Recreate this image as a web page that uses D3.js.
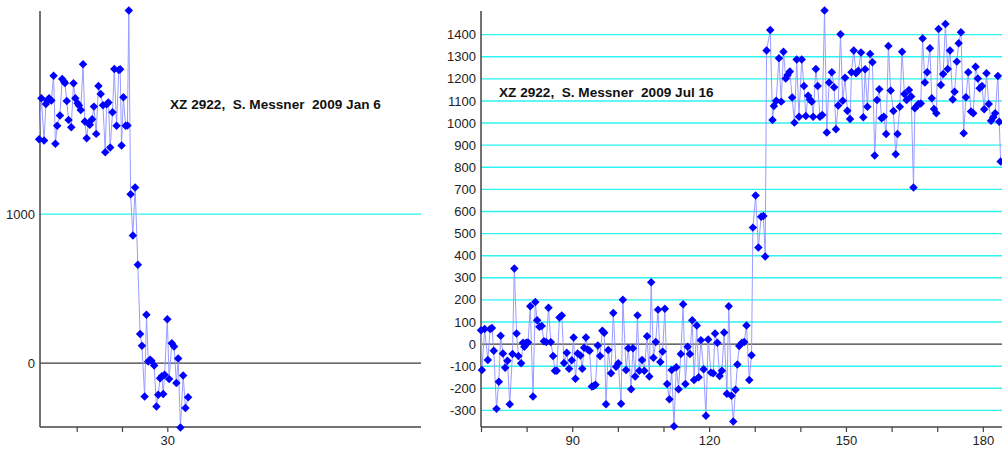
<!DOCTYPE html>
<html>
<head>
<meta charset="utf-8">
<script src="https://cdn.jsdelivr.net/npm/d3@7"></script>
<style>
  body { margin: 0; background: #fff; }
  svg { display: block; font-family: "Liberation Sans", Arial, sans-serif; }
  .title { font-size: 13.6px; font-weight: bold; fill: #111; white-space: pre; }
  .tick-label { font-size: 13px; fill: #222; }
</style>
</head>
<body>
<div id="chart"></div>
<script>
// Left panel: 2009 Jan 6 (time, value)
var leftTimes = [1.7, 2.2, 2.8, 3.2, 3.5, 3.9, 4.4, 4.9, 5.3, 5.7, 6.3, 6.8, 7.2, 7.4, 7.8, 8.2,
    8.8, 9.3, 9.7, 10.2, 10.5, 10.9, 11.4, 11.8, 12.2, 12.6, 12.9, 13.4, 13.8, 14.3, 14.8, 15.3,
    15.8, 16.3, 16.6, 17.0, 17.4, 17.9, 18.3, 18.8, 19.3, 19.6, 19.9, 20.3, 20.8, 21.2, 21.5, 21.9,
    22.4, 22.9, 23.5, 24.0, 24.4, 25.0, 25.4, 25.8, 26.2, 26.5, 27.1, 27.6, 28.0, 28.4, 28.8, 29.1,
    29.4, 30.0, 30.4, 31.0, 31.5, 32.0, 32.4, 32.9, 33.5, 34.0, 34.6];
var leftValues = [1503, 1778, 1494, 1740, 1763, 1778, 1763, 1930, 1472, 1593, 1662, 1908, 1890, 1880, 1760, 1633,
    1584, 1879, 1778, 1745, 1729, 1700, 2007, 1622, 1510, 1611, 1600, 1637, 1722, 1539, 1861, 1807,
    1731, 1416, 1738, 1749, 1447, 1684, 1975, 1593, 1968, 1973, 1461, 1785, 1593, 1595, 2367, 1134,
    857, 1179, 660, 195, 116, -224, 324, 11, 22, 15, -16, -291, -213, -101, -89, -208,
    -78, 295, -107, 134, 112, -134, 31, -432, -83, -302, -230];

// Right panel: 2009 Jul 16 (time, value)
var rightTimes = [70.0, 70.2, 70.8, 71.5, 72.0, 72.4, 72.8, 73.4, 73.9, 74.3, 74.8, 75.3, 75.8, 76.3, 76.9, 77.3,
    77.8, 78.2, 78.8, 79.2, 79.5, 79.9, 80.3, 80.8, 81.4, 81.9, 82.3, 82.8, 83.3, 83.8, 84.3, 84.8,
    85.3, 85.8, 86.2, 86.6, 87.2, 87.7, 88.2, 88.8, 89.3, 89.9, 90.3, 90.7, 91.2, 91.8, 92.2, 92.6,
    93.0, 93.4, 93.8, 94.3, 94.7, 95.1, 95.6, 96.1, 96.6, 97.0, 97.4, 97.9, 98.5, 99.0, 99.6, 100.1,
    100.7, 101.1, 101.8, 102.3, 102.9, 103.3, 103.8, 104.3, 104.7, 105.3, 105.8, 106.4, 106.9, 107.3, 107.8, 108.3,
    108.8, 109.3, 109.8, 110.3, 110.8, 111.3, 111.8, 112.3, 112.8, 113.3, 113.8, 114.3, 114.8, 115.3, 115.8, 116.3,
    116.7, 117.3, 117.7, 118.2, 118.8, 119.3, 119.8, 120.4, 120.9, 121.3, 121.8, 122.3, 122.8, 123.3, 123.9, 124.3,
    124.9, 125.3, 125.8, 126.2, 126.6, 127.2, 127.7, 128.2, 128.8, 129.3, 129.6, 130.2, 130.8, 131.4, 131.9, 132.3,
    132.6, 133.4, 133.9, 134.2, 134.7, 135.3, 135.8, 136.3, 136.8, 137.2, 137.7, 138.2, 138.7, 139.2, 139.7, 140.3,
    140.8, 141.2, 141.7, 142.1, 142.5, 142.8, 143.4, 143.8, 144.3, 144.8, 145.3, 145.8, 146.3, 146.9, 147.4, 147.8,
    148.3, 148.8, 149.3, 149.8, 150.3, 150.9, 151.2, 151.7, 152.2, 152.7, 153.3, 153.8, 154.2, 154.7, 155.3, 155.8,
    156.3, 156.8, 157.3, 157.8, 158.3, 158.8, 159.3, 159.8, 160.4, 160.9, 161.3, 161.8, 162.3, 162.8, 163.3, 163.8,
    164.3, 164.8, 165.1, 165.5, 165.9, 166.4, 166.8, 167.3, 167.8, 168.4, 168.8, 169.3, 169.8, 170.3, 170.8, 171.3,
    171.8, 172.3, 172.8, 173.4, 173.8, 174.3, 174.7, 175.2, 175.8, 176.3, 176.8, 177.4, 177.9, 178.4, 178.9, 179.3,
    179.8, 180.3, 180.8, 181.3, 181.8, 182.3, 182.7, 183.3, 183.6, 183.9];
var rightValues = [63, -117, 68, -72, 68, 73, -30, -293, -170, 38, -42, -107, -75, -272, -45, 342,
    48, -54, -87, 6, -12, 6, 7, 171, -237, 190, 108, 78, 82, 13, 9, 165,
    9, -54, -120, -120, 120, 129, -85, -39, -112, -73, 30, -157, -42, -51, -111, -16,
    30, -24, -30, -192, -189, -184, -6, -54, 60, 51, -272, -27, -132, 141, -102, -87,
    -270, 201, -117, -19, -204, -19, -147, 130, -120, -72, -120, 36, -147, 280, -62, 10,
    156, -81, -34, 160, -180, -249, -117, -372, -105, -204, -45, 180, -180, -12, -45, 108,
    -162, 84, -150, 18, -114, -324, 21, -129, -132, 48, 6, -144, -120, 52, -225, 171,
    -234, -350, -207, -92, -9, 6, 10, 84, -162, -50, 527, 672, 437, 576, 580, 396,
    1328, 1421, 1014, 1077, 1101, 1293, 1097, 1323, 1202, 1217, 1233, 1116, 1002, 1288, 1029, 1288,
    1168, 1032, 1124, 1107, 1097, 1029, 1245, 1168, 1029, 1037, 1509, 957, 1183, 1230, 1162, 972,
    1079, 1402, 1101, 1205, 1056, 1018, 1230, 1328, 1225, 1237, 1319, 1026, 1243, 1074, 1313, 1275,
    853, 1104, 1153, 1022, 1029, 951, 1349, 1147, 1055, 859, 951, 1074, 1323, 1132, 1104, 1150,
    1120, 708, 1067, 1077, 1086, 1089, 1383, 1184, 1230, 1338, 1112, 1064, 1044, 1426, 1172, 1222,
    1448, 1245, 1328, 1107, 1142, 1278, 1361, 1411, 954, 1117, 1230, 1052, 1044, 1255, 1202, 1157,
    1168, 1062, 1225, 1086, 1011, 1026, 1044, 1213, 1006, 826];

// Axis ticks and labels
var leftYTicks = [0, 1000];
var leftXTicks = [10, 20, 30];
var leftXLabels = [30];
var rightYTicks = [-300, -200, -100, 0, 100, 200, 300, 400, 500, 600, 700, 800, 900, 1000, 1100, 1200, 1300, 1400];
var rightXTicks = [70, 80, 90, 100, 110, 120, 130, 140, 150, 160, 170, 180];
var rightXLabels = [90, 120, 150, 180];

var leftTitle = 'XZ 2922,  S. Messner  2009 Jan 6';
var rightTitle = 'XZ 2922,  S. Messner  2009 Jul 16';

var width = 1002, height = 450;

var svg = d3.select('#chart')
    .append('svg')
        .attr('width', width)
        .attr('height', height);

// Draw one panel: gridlines, axes, line, diamond markers and title.
function drawPanel(p) {
    var x = d3.scaleLinear().domain(p.xDomain).range([p.left, p.right]);
    var y = d3.scaleLinear().domain(p.yDomain).range([p.bottom, p.top]);

    var g = svg.append('g');

    g.append('defs').append('clipPath')
        .attr('id', p.id + '-clip')
        .append('rect')
            .attr('x', p.left - 6)
            .attr('y', 0)
            .attr('width', p.right - p.left + 6)
            .attr('height', p.bottom + 6);

    // horizontal gridlines
    g.selectAll('.grid')
        .data(p.yTicks)
        .enter().append('line')
            .attr('x1', p.left)
            .attr('x2', p.right)
            .attr('y1', function(d){ return y(d); })
            .attr('y2', function(d){ return y(d); })
            .attr('stroke', function(d){ return d === 0 ? '#3a3a3a' : '#2cf2f2'; })
            .attr('stroke-width', function(d){ return d === 0 ? 1.2 : 1.4; });

    // y tick labels
    g.selectAll('.ylab')
        .data(p.yTicks)
        .enter().append('text')
            .attr('class', 'tick-label')
            .attr('x', p.left - 5)
            .attr('y', function(d){ return y(d); })
            .attr('dy', '0.35em')
            .attr('text-anchor', 'end')
            .text(function(d){ return d; });

    // x axis
    var xAxis = d3.axisBottom(x)
        .tickValues(p.xTicks)
        .tickSize(5)
        .tickFormat(function(d){ return p.xLabels.indexOf(d) >= 0 ? d : ''; });

    var ax = g.append('g')
        .attr('transform', 'translate(0,' + p.bottom + ')')
        .call(xAxis);
    ax.select('.domain')
        .attr('d', 'M' + p.left + ',0H' + p.right)
        .attr('stroke', '#444')
        .attr('stroke-width', 1.5);
    ax.selectAll('.tick line').attr('stroke', '#444').attr('stroke-width', 1.2);
    ax.selectAll('.tick text')
        .attr('class', 'tick-label')
        .attr('y', 9)
        .style('font-family', '"Liberation Sans", Arial, sans-serif')
        .style('font-size', '13px')
        .attr('fill', '#222');

    // y axis line
    g.append('line')
        .attr('x1', p.left).attr('x2', p.left)
        .attr('y1', p.top).attr('y2', p.bottom)
        .attr('stroke', '#444')
        .attr('stroke-width', 1.5);

    var pts = p.times.map(function(t, i){ return [t, p.values[i]]; });

    var plot = g.append('g').attr('clip-path', 'url(#' + p.id + '-clip)');

    plot.append('path')
        .datum(pts)
        .attr('fill', 'none')
        .attr('stroke', '#9a9cff')
        .attr('stroke-width', 1)
        .attr('d', d3.line()
            .x(function(d){ return x(d[0]); })
            .y(function(d){ return y(d[1]); }));

    plot.selectAll('.pt')
        .data(pts)
        .enter().append('path')
            .attr('d', d3.symbol().type(d3.symbolSquare).size(36))
            .attr('transform', function(d){ return 'translate(' + x(d[0]) + ',' + y(d[1]) + ') rotate(45)'; })
            .attr('fill', '#0000ff');

    g.append('text')
        .attr('class', 'title')
        .attr('x', p.titleX)
        .attr('y', p.titleY)
        .text(p.title);
}

drawPanel({
    id: 'left', left: 40, right: 421, top: 11, bottom: 427,
    xDomain: [1.9, 86], yDomain: [-429, 2364],
    xTicks: leftXTicks, xLabels: leftXLabels, yTicks: leftYTicks,
    times: leftTimes, values: leftValues,
    title: leftTitle, titleX: 170, titleY: 109
});

drawPanel({
    id: 'right', left: 481, right: 1002, top: 11, bottom: 427,
    xDomain: [70, 184.2], yDomain: [-375, 1507],
    xTicks: rightXTicks, xLabels: rightXLabels, yTicks: rightYTicks,
    times: rightTimes, values: rightValues,
    title: rightTitle, titleX: 499, titleY: 97
});
</script>
</body>
</html>
